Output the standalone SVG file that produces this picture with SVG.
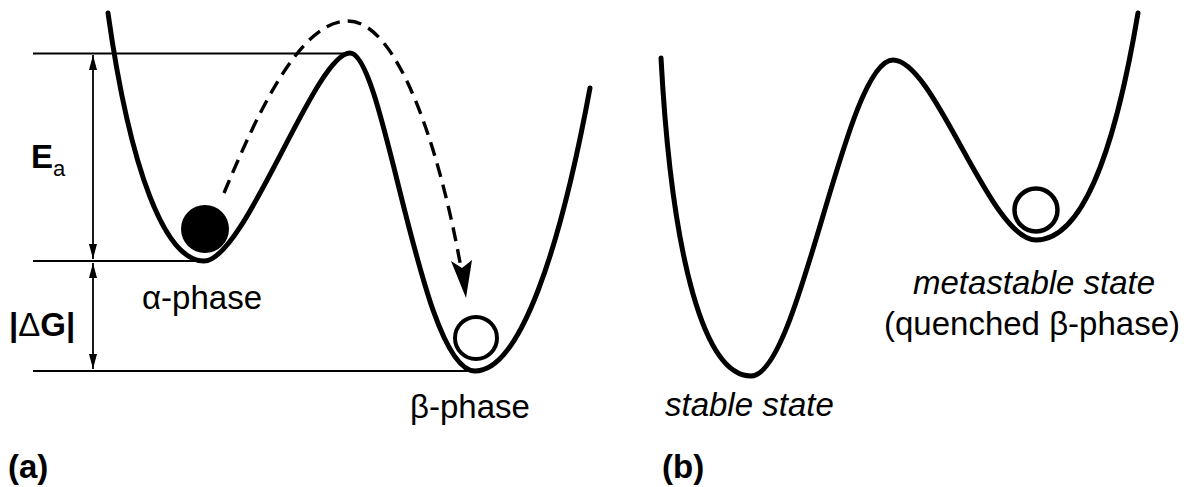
<svg xmlns="http://www.w3.org/2000/svg" width="1187" height="487" viewBox="0 0 1187 487">
<style>
.curve{fill:none;stroke:#000;stroke-width:5;stroke-linecap:round;stroke-linejoin:round}
.level{fill:none;stroke:#000;stroke-width:2}
.dim{fill:none;stroke:#000;stroke-width:1.8}
.dash{fill:none;stroke:#000;stroke-width:3.4;stroke-dasharray:14 8}
.lbl{font-family:"Liberation Sans",Arial,sans-serif;font-size:33px;fill:#000}
.it{font-style:italic}
.bold{font-weight:bold}
</style>
<defs>
<marker id="ah" viewBox="0 0 15 10" refX="15" refY="5" markerWidth="15" markerHeight="10" markerUnits="userSpaceOnUse" orient="auto-start-reverse">
<path d="M0,1 L15,5 L0,9 Z" fill="#000"/>
</marker>
</defs>
<rect width="1187" height="487" fill="#fff"/>
<g id="panel-a">
<g id="levels">
<line class="level" x1="33" y1="53.5" x2="350" y2="53.5"/>
<line class="level" x1="33" y1="261" x2="204" y2="261"/>
<line class="level" x1="33" y1="371" x2="476" y2="371"/>
</g>
<g id="connectors">
<line class="dim" x1="93" y1="55" x2="93" y2="259" marker-start="url(#ah)" marker-end="url(#ah)"/>
<line class="dim" x1="93" y1="263" x2="93" y2="369" marker-start="url(#ah)" marker-end="url(#ah)"/>
<path class="dash" d="M224,193 C258,112 300,21 348,21 C398,21 440,150 461,268"/>
<path d="M466,298 L451,261 L462,268 L472,260 Z" fill="#000"/>
</g>
<path id="curve-a" class="curve" d="M108,13 C130,170 165,261 204,261 C245,261 315,53 350,53 C385,53 420,371 475,371 C520,371 560,250 590,88"/>
<circle id="ball-alpha" cx="205" cy="229" r="24" fill="#000"/>
<circle id="ball-beta" cx="476" cy="338" r="21" fill="#fff" stroke="#000" stroke-width="4"/>
<text class="lbl bold" x="31" y="168" font-size="36">E<tspan font-weight="normal" font-size="22" dy="8">a</tspan></text>
<text class="lbl bold" x="9" y="336" font-size="35">|<tspan font-weight="normal">Δ</tspan>G|</text>
<text class="lbl" x="142" y="309">α-phase</text>
<text class="lbl" x="410" y="418">β-phase</text>
<text class="lbl bold" x="8" y="478" font-size="30">(a)</text>
</g>
<g id="panel-b">
<path id="curve-b" class="curve" d="M661,58 C672,262 705,376 751,376 C800,376 845,60 893,60 C935,60 990,240 1036,240 C1090,240 1120,120 1138,13"/>
<circle id="ball-meta" cx="1036" cy="210" r="21.5" fill="#fff" stroke="#000" stroke-width="4.5"/>
<text class="lbl it" x="913" y="294" font-size="33.5">metastable state</text>
<text class="lbl" x="884" y="335" font-size="33.5">(quenched β-phase)</text>
<text class="lbl it" x="665" y="416" font-size="33.5">stable state</text>
<text class="lbl bold" x="662" y="478" font-size="30">(b)</text>
</g>
</svg>
